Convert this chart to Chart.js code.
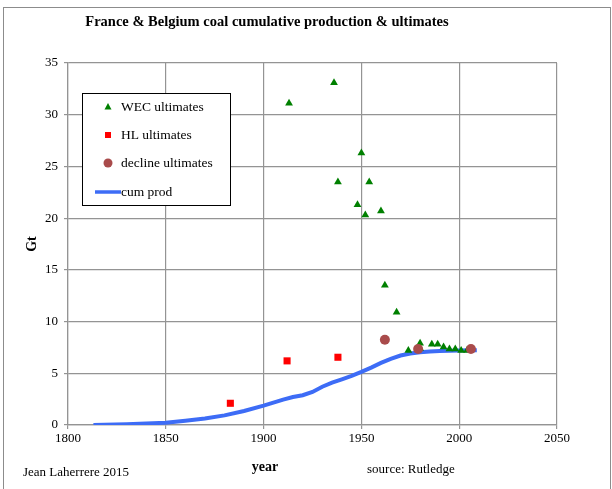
<!DOCTYPE html>
<html>
<head>
<meta charset="utf-8">
<script src="https://cdn.jsdelivr.net/npm/chart.js@4/dist/chart.umd.min.js"></script>
<style>
  html, body { margin: 0; padding: 0; background: #fff; }
  #wrap { width: 612px; height: 489px; position: relative; }
</style>
</head>
<body>
<div id="wrap"><canvas id="coalChart" width="612" height="489"></canvas></div>
<script>
// WEC ultimates (year, Gt)
const wecYears = [1913, 1936, 1950, 1938, 1954, 1948, 1952, 1960, 1962, 1968, 1974, 1980, 1980, 1986, 1989, 1992, 1995, 1998, 2001, 2004];
const wecValues = [31.1, 33.1, 26.3, 23.5, 23.5, 21.3, 20.3, 20.7, 13.5, 10.9, 7.2, 7.9, 7.4, 7.8, 7.8, 7.55, 7.35, 7.35, 7.2, 7.2];

// Hubbert linearization ultimates
const hlYears = [1883, 1912, 1938];
const hlValues = [2.1, 6.2, 6.55];

// decline ultimates
const declineYears = [1962, 1979, 2006];
const declineValues = [8.25, 7.35, 7.35];

// cumulative production
const cumYears = [1813, 1830, 1840, 1850, 1860, 1870, 1880, 1890, 1900, 1910, 1915, 1920, 1925, 1930, 1935, 1940, 1945, 1950, 1955, 1960, 1965, 1970, 1975, 1980, 1985, 1990, 1995, 2000, 2005, 2009];
const cumValues = [0, 0.08, 0.15, 0.22, 0.4, 0.62, 0.93, 1.35, 1.87, 2.45, 2.7, 2.88, 3.2, 3.7, 4.1, 4.42, 4.75, 5.13, 5.55, 6.0, 6.4, 6.72, 6.92, 7.03, 7.1, 7.16, 7.19, 7.21, 7.22, 7.23];

const xTicks = [1800, 1850, 1900, 1950, 2000, 2050];
const yTicks = [0, 5, 10, 15, 20, 25, 30, 35];

const toPoints = (xs, ys) => xs.map((x, i) => ({ x: x, y: ys[i] }));

const serif = "'Liberation Serif', 'DejaVu Serif', serif";

const legendItems = [
  { label: 'WEC ultimates', kind: 'triangle', color: '#008000' },
  { label: 'HL ultimates', kind: 'rect', color: '#ff0000' },
  { label: 'decline ultimates', kind: 'circle', color: '#a94b4b' },
  { label: 'cum prod', kind: 'line', color: '#3d6cf6' }
];

function drawMark(ctx, kind, x, y, color) {
  ctx.fillStyle = color;
  ctx.beginPath();
  if (kind === 'triangle') {
    ctx.moveTo(x, y - 4);
    ctx.lineTo(x + 3.5, y + 2.5);
    ctx.lineTo(x - 3.5, y + 2.5);
    ctx.closePath();
    ctx.fill();
  } else if (kind === 'rect') {
    ctx.fillRect(x - 3, y - 3, 6, 6);
  } else if (kind === 'circle') {
    ctx.arc(x, y, 4.5, 0, Math.PI * 2);
    ctx.fill();
  } else {
    ctx.strokeStyle = color;
    ctx.lineWidth = 3.5;
    ctx.moveTo(x - 13, y);
    ctx.lineTo(x + 13, y);
    ctx.stroke();
  }
}

const decorations = {
  id: 'decorations',
  beforeDraw(chart) {
    const ctx = chart.ctx;
    ctx.save();
    ctx.fillStyle = '#fff';
    ctx.fillRect(0, 0, chart.width, chart.height);
    ctx.strokeStyle = '#8c8c8c';
    ctx.lineWidth = 1;
    ctx.strokeRect(3.5, 7.5, 607, 490);
    ctx.restore();
  },
  afterDraw(chart) {
    const ctx = chart.ctx;
    ctx.save();
    ctx.fillStyle = '#000';
    ctx.textBaseline = 'middle';
    ctx.textAlign = 'center';
    ctx.font = 'bold 14.5px ' + serif;
    ctx.fillText('France & Belgium coal cumulative production & ultimates', 267, 22);

    ctx.font = 'bold 14px ' + serif;
    ctx.fillText('year', 265, 467);
    ctx.save();
    ctx.translate(32, 244);
    ctx.rotate(-Math.PI / 2);
    ctx.fillText('Gt', 0, 0);
    ctx.restore();

    ctx.font = '13px ' + serif;
    ctx.textAlign = 'left';
    ctx.fillText('Jean Laherrere 2015', 23, 473);
    ctx.fillText('source: Rutledge', 367, 470);

    // legend box
    ctx.fillStyle = '#fff';
    ctx.fillRect(82, 93, 148, 113);
    ctx.strokeStyle = '#000';
    ctx.lineWidth = 1;
    ctx.strokeRect(82.5, 93.5, 148, 112);
    const rows = [107, 135, 163, 192];
    legendItems.forEach((item, i) => {
      drawMark(ctx, item.kind, 108, rows[i], item.color);
      ctx.fillStyle = '#000';
      ctx.font = '13.5px ' + serif;
      ctx.textAlign = 'left';
      ctx.fillText(item.label, 121, rows[i]);
    });
    ctx.restore();
  }
};

new Chart(document.getElementById('coalChart'), {
  type: 'scatter',
  data: {
    datasets: [
      {
        label: 'decline ultimates',
        data: toPoints(declineYears, declineValues),
        pointStyle: 'circle',
        pointRadius: 5,
        backgroundColor: '#a94b4b',
        borderWidth: 0,
        order: 0
      },
      {
        label: 'HL ultimates',
        data: toPoints(hlYears, hlValues),
        pointStyle: 'rect',
        pointRadius: 5,
        backgroundColor: '#ff0000',
        borderWidth: 0,
        order: 1
      },
      {
        label: 'WEC ultimates',
        data: toPoints(wecYears, wecValues),
        pointStyle: 'triangle',
        pointRadius: 4.5,
        backgroundColor: '#008000',
        borderWidth: 0,
        order: 2
      },
      {
        label: 'cum prod',
        data: toPoints(cumYears, cumValues),
        showLine: true,
        pointRadius: 0,
        borderColor: '#3d6cf6',
        borderWidth: 4,
        tension: 0,
        order: 3
      }
    ]
  },
  options: {
    responsive: false,
    animation: false,
    events: [],
    layout: { padding: { left: 0, top: 63, right: 55, bottom: 34 } },
    plugins: {
      legend: { display: false },
      title: { display: false },
      tooltip: { enabled: false }
    },
    scales: {
      x: {
        type: 'linear',
        min: xTicks[0],
        max: xTicks[xTicks.length - 1],
        afterBuildTicks: s => { s.ticks = xTicks.map(v => ({ value: v })); },
        afterFit: s => { s.height = 30; },
        grid: { color: '#949494', lineWidth: 1.2, tickLength: 4 },
        border: { color: '#949494', width: 1.2 },
        ticks: {
          color: '#000',
          font: { family: serif, size: 13 },
          padding: 2,
          maxRotation: 0,
          callback: v => String(v)
        }
      },
      y: {
        min: yTicks[0],
        max: yTicks[yTicks.length - 1],
        afterBuildTicks: s => { s.ticks = yTicks.map(v => ({ value: v })); },
        afterFit: s => { s.width = 68; },
        grid: { color: '#949494', lineWidth: 1.2, tickLength: 4 },
        border: { color: '#949494', width: 1.2 },
        ticks: {
          color: '#000',
          font: { family: serif, size: 13 },
          padding: 6,
          callback: v => String(v)
        }
      }
    }
  },
  plugins: [decorations]
});
</script>
</body>
</html>
